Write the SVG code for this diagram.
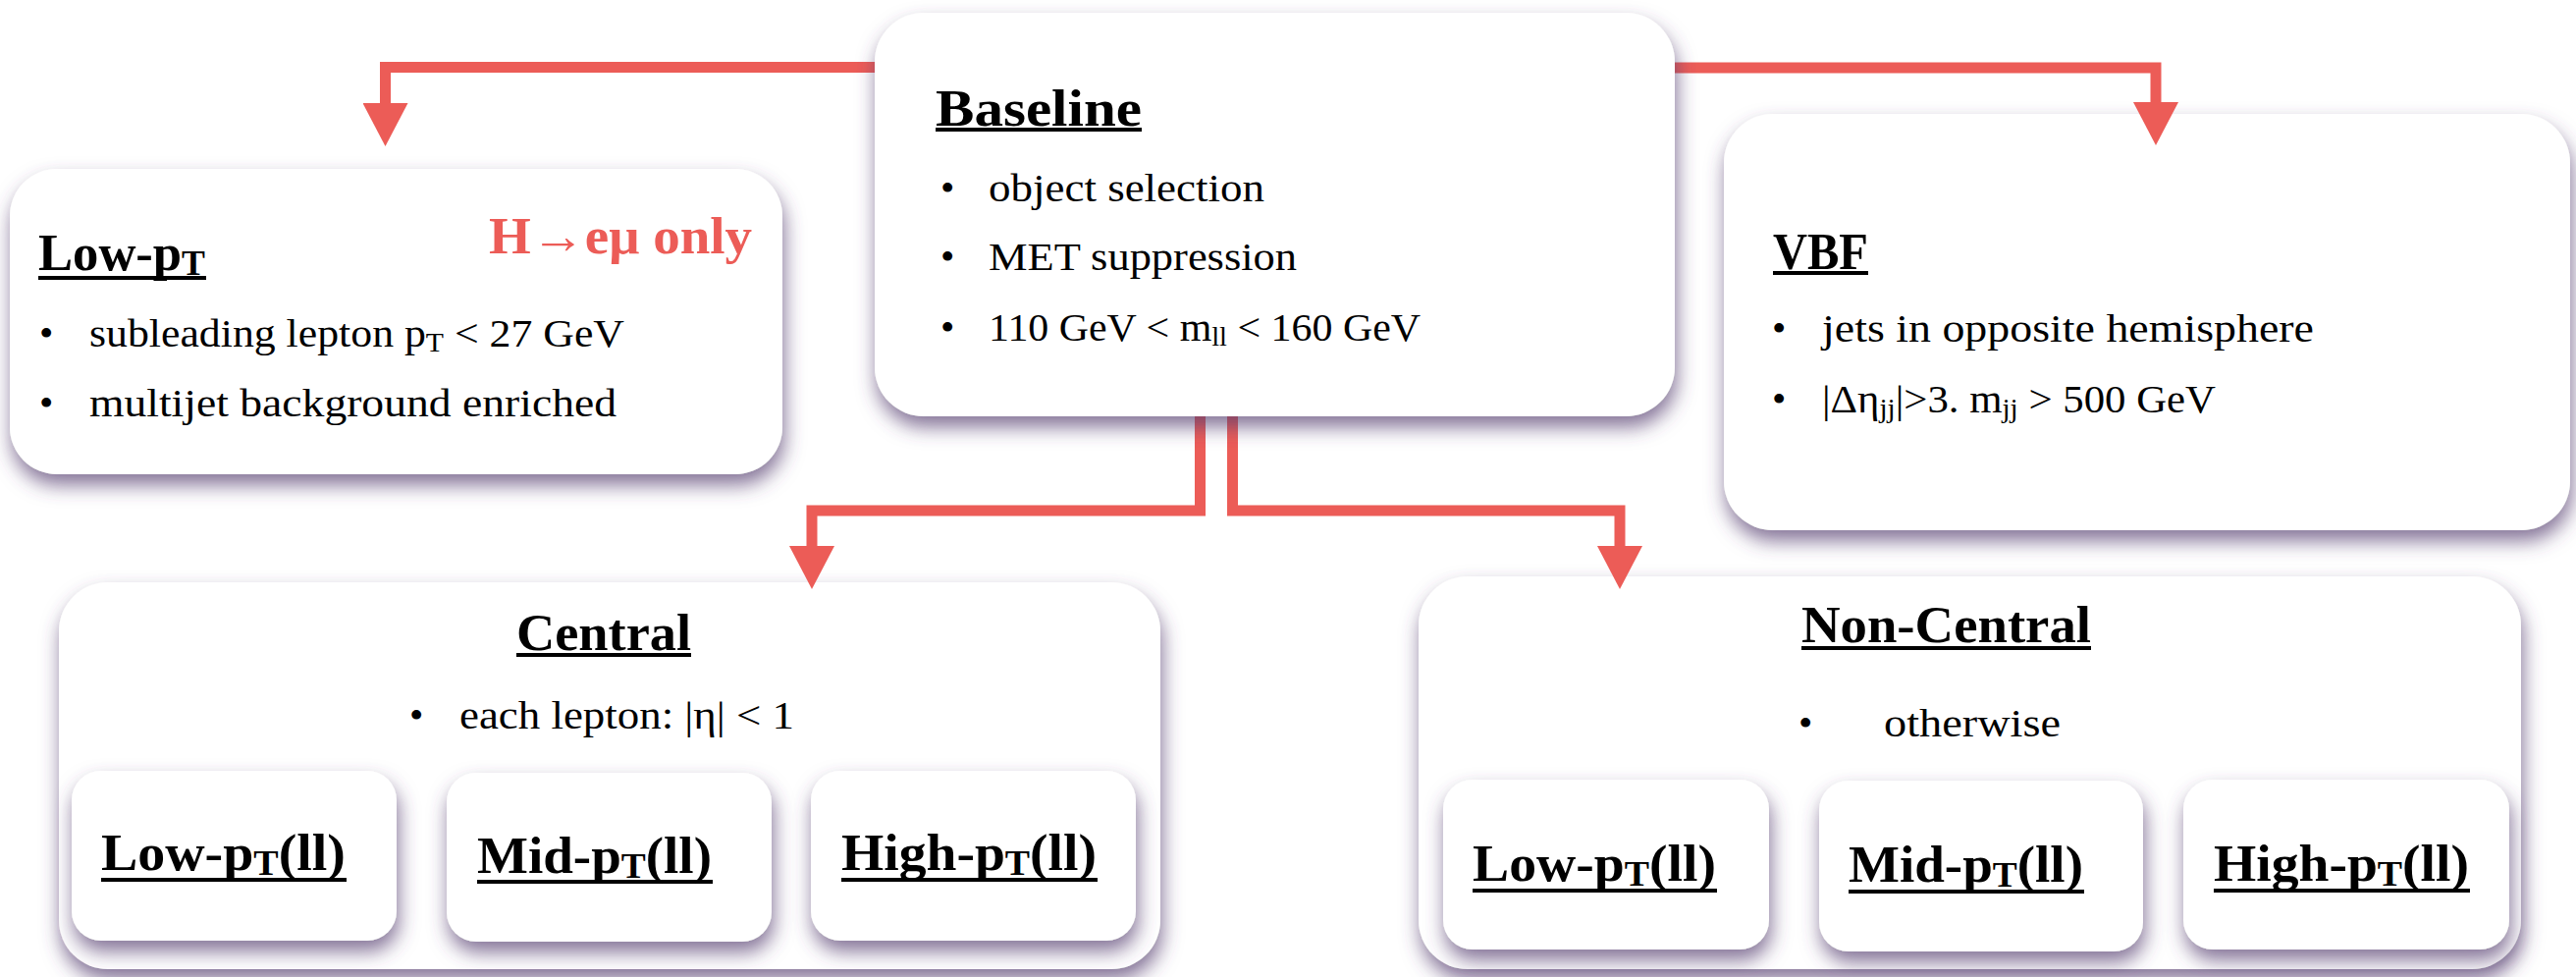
<svg xmlns="http://www.w3.org/2000/svg" width="2624" height="995" viewBox="0 0 2624 995">
<style>
.box{fill:#ffffff;filter:url(#sh)}
.t{font-family:"Liberation Serif","Times New Roman",serif;fill:#000}
.h{font-size:52px;font-weight:bold}
.b{font-size:41px}
.red{fill:#EC5C57}
.sub{font-size:68%}
.ul{fill:#000}
.conn{fill:none;stroke:#EC5C57;stroke-width:11;stroke-linejoin:miter;marker-end:url(#ah)}
</style>
<defs>
<filter id="sh" x="-10%" y="-15%" width="120%" height="150%">
<feDropShadow dx="2" dy="11" stdDeviation="10" flood-color="#56406f" flood-opacity="0.72"/>
</filter>
<marker id="ah" markerUnits="userSpaceOnUse" viewBox="0 -23 44 46" refX="2" refY="0" markerWidth="44" markerHeight="46" orient="auto">
<path d="M0,-23 L44,0 L0,23 Z" fill="#EC5C57"/>
</marker>
</defs>
<rect width="2624" height="995" fill="#ffffff"/>
<g id="node-lowpt">
<rect class="box" x="10" y="172" width="787" height="311" rx="48"/>
<text class="t h" x="39" y="275" textLength="170" lengthAdjust="spacingAndGlyphs">Low-p<tspan class="sub" dy="5">T</tspan></text>
<rect class="ul" x="39" y="281" width="171" height="4"/>
<text class="t h red" x="498" y="258" textLength="268" lengthAdjust="spacingAndGlyphs">H→eμ only</text>
<text class="t b" x="40" y="353">•</text>
<text class="t b" x="91" y="353" textLength="545" lengthAdjust="spacingAndGlyphs">subleading lepton p<tspan class="sub" dy="5">T</tspan><tspan dy="-5"> &lt; 27 GeV</tspan></text>
<text class="t b" x="40" y="424">•</text>
<text class="t b" x="91" y="424" textLength="537" lengthAdjust="spacingAndGlyphs">multijet background enriched</text>
</g>
<g id="node-vbf">
<rect class="box" x="1756" y="116" width="862" height="424" rx="50"/>
<text class="t h" x="1806" y="274" textLength="97" lengthAdjust="spacingAndGlyphs">VBF</text>
<rect class="ul" x="1806" y="276" width="97" height="4"/>
<text class="t b" x="1805" y="348">•</text>
<text class="t b" x="1856" y="348" textLength="501" lengthAdjust="spacingAndGlyphs">jets in opposite hemisphere</text>
<text class="t b" x="1805" y="420">•</text>
<text class="t b" x="1856" y="420" textLength="401" lengthAdjust="spacingAndGlyphs">|Δη<tspan class="sub" dy="5">jj</tspan><tspan dy="-5">|&gt;3. m</tspan><tspan class="sub" dy="5">jj</tspan><tspan dy="-5"> &gt; 500 GeV</tspan></text>
</g>
<g id="node-central">
<rect class="box" x="60" y="593" width="1122" height="394" rx="50"/>
<text class="t h" x="526" y="662" textLength="178" lengthAdjust="spacingAndGlyphs">Central</text>
<rect class="ul" x="526" y="665" width="178" height="4"/>
<text class="t b" x="417" y="742">•</text>
<text class="t b" x="468" y="742" textLength="341" lengthAdjust="spacingAndGlyphs">each lepton: |η| &lt; 1</text>
<g id="node-central-low">
<rect class="box" x="73" y="785" width="331" height="173" rx="30"/>
<text class="t h" x="103" y="886" textLength="249" lengthAdjust="spacingAndGlyphs">Low-p<tspan class="sub" dy="5">T</tspan><tspan dy="-5">(ll)</tspan></text>
<rect class="ul" x="103" y="894" width="250" height="4"/>
</g>
<g id="node-central-mid">
<rect class="box" x="455" y="787" width="331" height="172" rx="30"/>
<text class="t h" x="486" y="889" textLength="239" lengthAdjust="spacingAndGlyphs">Mid-p<tspan class="sub" dy="5">T</tspan><tspan dy="-5">(ll)</tspan></text>
<rect class="ul" x="486" y="896" width="240" height="4"/>
</g>
<g id="node-central-high">
<rect class="box" x="826" y="785" width="331" height="173" rx="30"/>
<text class="t h" x="857" y="886" textLength="260" lengthAdjust="spacingAndGlyphs">High-p<tspan class="sub" dy="5">T</tspan><tspan dy="-5">(ll)</tspan></text>
<rect class="ul" x="857" y="894" width="261" height="4"/>
</g>
</g>
<g id="node-noncentral">
<rect class="box" x="1445" y="587" width="1123" height="400" rx="50"/>
<text class="t h" x="1835" y="654" textLength="295" lengthAdjust="spacingAndGlyphs">Non-Central</text>
<rect class="ul" x="1835" y="658" width="295" height="4"/>
<text class="t b" x="1832" y="750">•</text>
<text class="t b" x="1919" y="750" textLength="180" lengthAdjust="spacingAndGlyphs">otherwise</text>
<g id="node-nc-low">
<rect class="box" x="1470" y="794" width="332" height="173" rx="30"/>
<text class="t h" x="1500" y="897" textLength="248" lengthAdjust="spacingAndGlyphs">Low-p<tspan class="sub" dy="5">T</tspan><tspan dy="-5">(ll)</tspan></text>
<rect class="ul" x="1500" y="905" width="249" height="4"/>
</g>
<g id="node-nc-mid">
<rect class="box" x="1853" y="795" width="330" height="174" rx="30"/>
<text class="t h" x="1883" y="898" textLength="239" lengthAdjust="spacingAndGlyphs">Mid-p<tspan class="sub" dy="5">T</tspan><tspan dy="-5">(ll)</tspan></text>
<rect class="ul" x="1883" y="906" width="240" height="4"/>
</g>
<g id="node-nc-high">
<rect class="box" x="2224" y="794" width="332" height="173" rx="30"/>
<text class="t h" x="2255" y="897" textLength="260" lengthAdjust="spacingAndGlyphs">High-p<tspan class="sub" dy="5">T</tspan><tspan dy="-5">(ll)</tspan></text>
<rect class="ul" x="2255" y="905" width="261" height="4"/>
</g>
</g>
<g id="connectors">
<path class="conn" d="M900 68.5 H392.5 V107"/>
<path class="conn" d="M1700 69 H2196 V106"/>
<path class="conn" d="M1222.5 415 V520 H827 V558"/>
<path class="conn" d="M1255.5 415 V520 H1650 V558"/>
</g>
<g id="node-baseline">
<rect class="box" x="891" y="13" width="815" height="411" rx="50"/>
<text class="t h" x="953" y="128" textLength="210" lengthAdjust="spacingAndGlyphs">Baseline</text>
<rect class="ul" x="953" y="130" width="210" height="4"/>
<text class="t b" x="958" y="205">•</text>
<text class="t b" x="1007" y="205" textLength="281" lengthAdjust="spacingAndGlyphs">object selection</text>
<text class="t b" x="958" y="275">•</text>
<text class="t b" x="1007" y="275" textLength="314" lengthAdjust="spacingAndGlyphs">MET suppression</text>
<text class="t b" x="958" y="347">•</text>
<text class="t b" x="1007" y="347" textLength="440" lengthAdjust="spacingAndGlyphs">110 GeV &lt; m<tspan class="sub" dy="5">ll</tspan><tspan dy="-5"> &lt; 160 GeV</tspan></text>
</g>
</svg>
